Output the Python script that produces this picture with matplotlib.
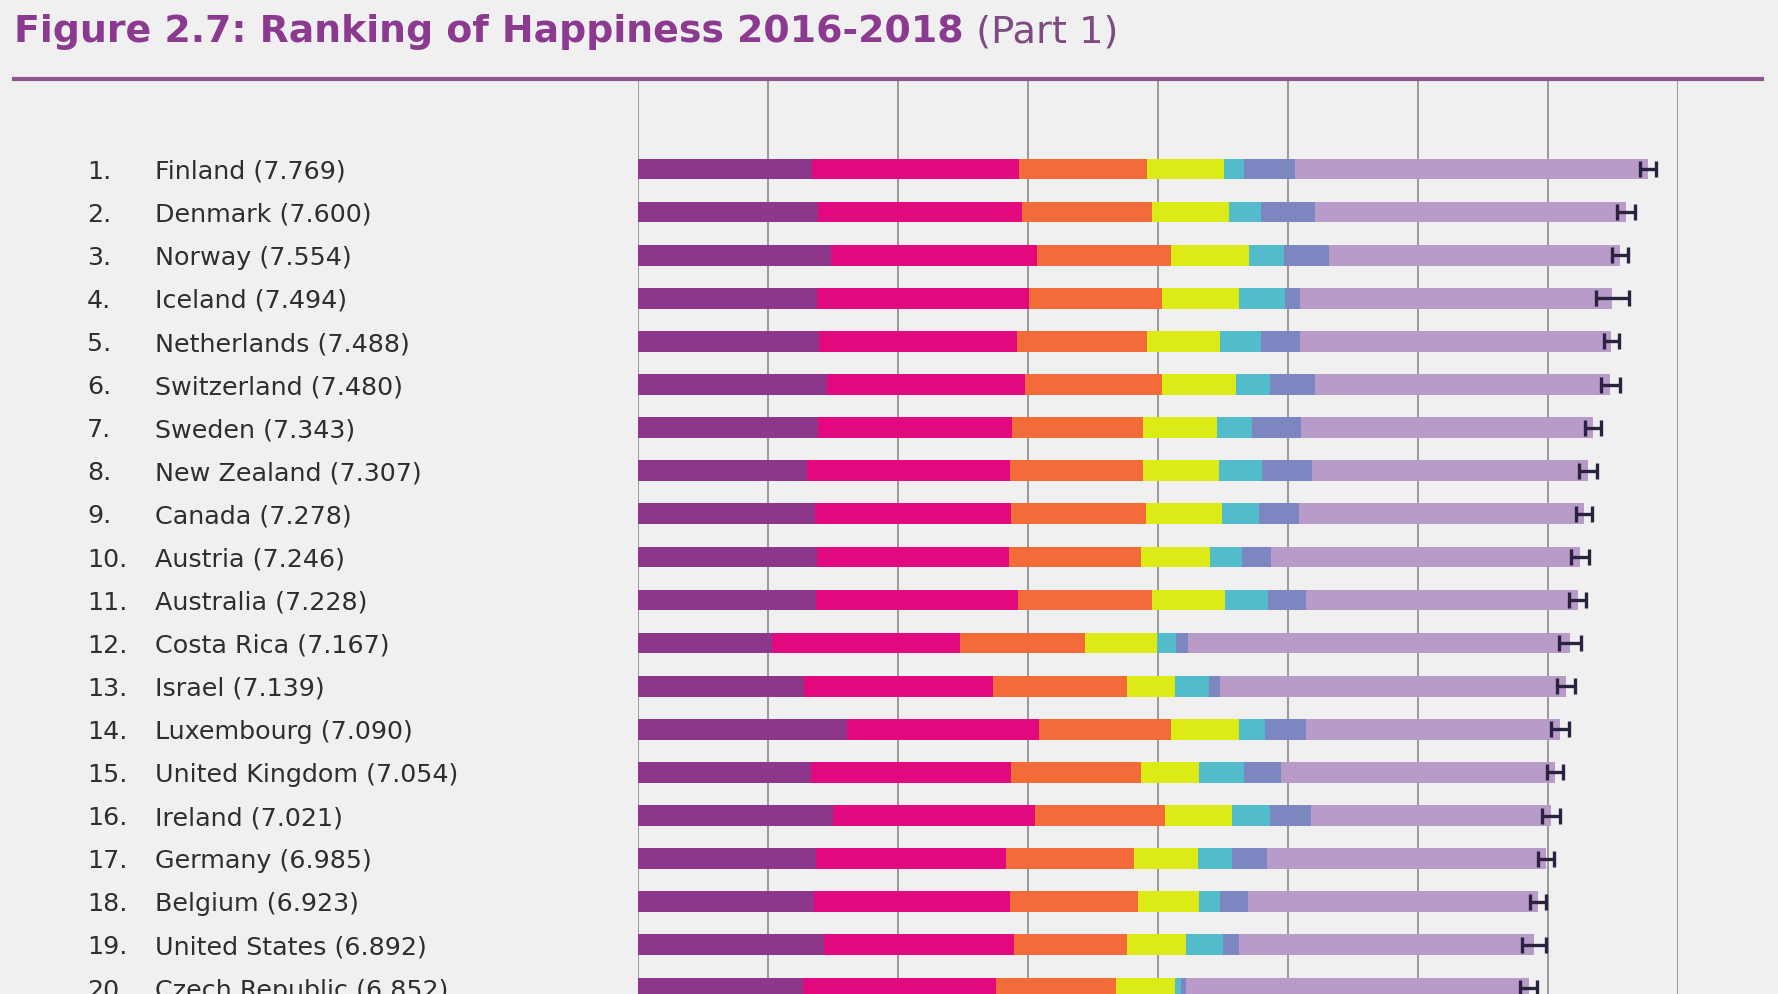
import numpy as np
import matplotlib
matplotlib.use('Agg')
import matplotlib.pyplot as plt
from matplotlib import transforms
from matplotlib.lines import Line2D

# data
ranks = list(range(1, 21))
countries = ['Finland', 'Denmark', 'Norway', 'Iceland', 'Netherlands', 'Switzerland',
             'Sweden', 'New Zealand', 'Canada', 'Austria', 'Australia', 'Costa Rica',
             'Israel', 'Luxembourg', 'United Kingdom', 'Ireland', 'Germany', 'Belgium',
             'United States', 'Czech Republic']
scores = [7.769, 7.600, 7.554, 7.494, 7.488, 7.480, 7.343, 7.307, 7.278, 7.246,
          7.228, 7.167, 7.139, 7.090, 7.054, 7.021, 6.985, 6.923, 6.892, 6.852]

gdp = [1.340, 1.383, 1.488, 1.380, 1.396, 1.452, 1.387, 1.303, 1.365, 1.376,
       1.372, 1.034, 1.276, 1.609, 1.333, 1.499, 1.373, 1.356, 1.433, 1.269]
social = [1.587, 1.573, 1.582, 1.624, 1.522, 1.526, 1.487, 1.557, 1.505, 1.475,
          1.548, 1.441, 1.455, 1.479, 1.538, 1.553, 1.454, 1.504, 1.457, 1.487]
health = [0.986, 0.996, 1.028, 1.026, 0.999, 1.052, 1.009, 1.026, 1.039, 1.016,
          1.036, 0.963, 1.029, 1.012, 0.996, 0.999, 0.987, 0.986, 0.874, 0.920]
freedom = [0.596, 0.592, 0.603, 0.591, 0.557, 0.572, 0.574, 0.585, 0.584, 0.532,
           0.557, 0.558, 0.371, 0.526, 0.450, 0.516, 0.495, 0.473, 0.454, 0.457]
generosity = [0.153, 0.252, 0.271, 0.354, 0.322, 0.263, 0.267, 0.330, 0.285, 0.244,
              0.332, 0.144, 0.261, 0.194, 0.348, 0.298, 0.261, 0.160, 0.280, 0.046]
corruption = [0.393, 0.410, 0.341, 0.118, 0.298, 0.343, 0.373, 0.380, 0.308, 0.226,
              0.290, 0.093, 0.082, 0.316, 0.278, 0.310, 0.265, 0.210, 0.128, 0.036]
dystopia = [2.714, 2.394, 2.241, 2.401, 2.394, 2.272, 2.246, 2.126, 2.192, 2.377,
            2.093, 2.934, 2.665, 1.954, 2.111, 1.846, 2.150, 2.234, 2.266, 2.637]
ci_half = [0.063, 0.067, 0.062, 0.127, 0.057, 0.072, 0.062, 0.070, 0.061, 0.069,
           0.066, 0.084, 0.066, 0.070, 0.065, 0.071, 0.061, 0.065, 0.091, 0.065]

segments = [gdp, social, health, freedom, generosity, corruption, dystopia]
colors = ['#8c368c', '#e2087e', '#f26b38', '#dcea16', '#52bccb', '#7c87c2', '#b99bc9']

bg = '#f0f0f1'
W, H = 1778, 995
fig = plt.figure(figsize=(W / 100, H / 100), dpi=100, facecolor=bg)

# pixel layout
x_left, x_right = 638, 1678
top_px = 80
row0, row_step = 170, 43.1

ax = fig.add_axes([x_left / W, 0, (x_right - x_left) / W, (H - top_px) / H])
ax.set_facecolor(bg)
ax.set_xlim(0, 8)
ax.set_ylim((H - row0) / row_step, (top_px - row0) / row_step)
ax.axis('off')

for g in range(0, 9):
    ax.axvline(g, color='#8a8a8a', lw=1.2, zorder=1)

y = np.arange(len(countries))
left = np.zeros(len(countries))
for seg, c in zip(segments, colors):
    ax.barh(y, seg, left=left, height=0.48, color=c, zorder=2)
    left += np.array(seg)

ax.errorbar(scores, y, xerr=ci_half, fmt='none', ecolor='#2a2340',
            elinewidth=2.4, capsize=5.5, capthick=2.4, zorder=3)

# labels
trans = transforms.blended_transform_factory(fig.transFigure, ax.transData)
for i, (r, name, s) in enumerate(zip(ranks, countries, scores)):
    ax.text(87 / W, i + 0.2, f'{r}.', transform=trans, fontsize=18.3,
            color='#2e2e2e', va='baseline', ha='left', clip_on=False)
    ax.text(155 / W, i + 0.2, f'{name} ({s:.3f})', transform=trans, fontsize=18.3,
            color='#2e2e2e', va='baseline', ha='left', clip_on=False)

# title and rule
fig.add_artist(Line2D([14 / W, 1762 / W], [1 - top_px / H, 1 - top_px / H],
                      color='#8d548e', lw=3, transform=fig.transFigure))
t1 = fig.text(14 / W, 1 - 42 / H, 'Figure 2.7: Ranking of Happiness 2016-2018',
              fontsize=27.3, fontweight='bold', color='#8b3a8f', va='baseline')
fig.canvas.draw()
bb = t1.get_window_extent()
fig.text(bb.x1 / W, 1 - 42 / H, ' (Part 1)', fontsize=27.6, color='#7e4a82',
         va='baseline')

fig.savefig('out.png', dpi=100, facecolor=bg)
